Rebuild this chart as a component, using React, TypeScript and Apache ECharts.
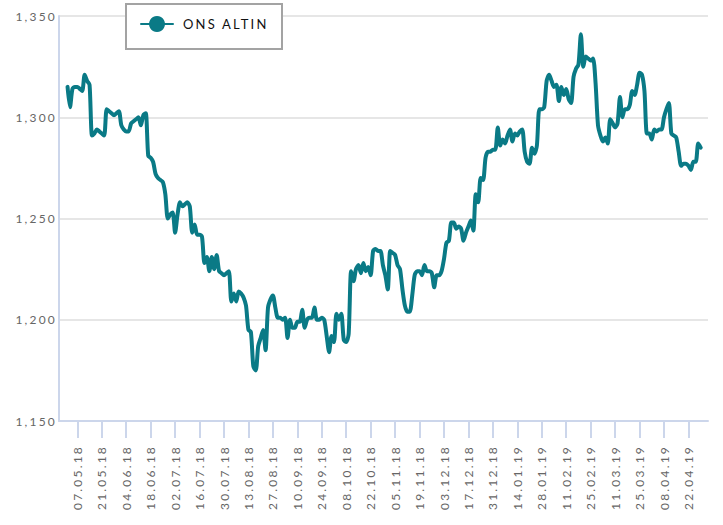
import React, { useEffect, useRef } from 'react';
import * as echarts from 'echarts';

const seriesName = 'ONS ALTIN';
const startDate = '2018-05-01';

// daily (weekday) closing values, starting 01.05.18
const prices = [
  1315, 1305, 1314, 1315, 1315, 1314, 1313, 1321, 1318, 1316,
  1291, 1292, 1294, 1293, 1292, 1291, 1304, 1303, 1302, 1301,
  1302, 1303, 1296, 1294, 1293, 1293, 1297, 1298, 1299, 1300,
  1296, 1301, 1302, 1281, 1280, 1278, 1272, 1270, 1269, 1268,
  1262, 1250, 1252, 1253, 1243, 1252, 1258, 1256, 1257, 1258,
  1256, 1243, 1247, 1242, 1242, 1241, 1228, 1231, 1224, 1231,
  1225, 1232, 1224, 1223, 1222, 1223, 1224, 1209, 1213, 1209,
  1214, 1213, 1211, 1207, 1195, 1194, 1177, 1175, 1187, 1191,
  1195, 1185, 1206, 1210, 1212, 1206, 1201, 1201, 1200, 1201,
  1191, 1200, 1196, 1196, 1199, 1199, 1205, 1196, 1200, 1201,
  1201, 1206, 1200, 1200, 1201, 1200, 1192, 1184, 1192, 1189,
  1203, 1200, 1203, 1190, 1189, 1193, 1224, 1219, 1225, 1227,
  1223, 1228, 1224, 1226, 1222, 1234, 1235, 1234, 1234, 1227,
  1222, 1215, 1234, 1233, 1232, 1227, 1225, 1215, 1207, 1204,
  1204, 1212, 1222, 1224, 1224, 1222, 1227, 1224, 1224, 1223,
  1216, 1222, 1222, 1224, 1230, 1238, 1239, 1248, 1248, 1245,
  1246, 1245, 1239, 1243, 1246, 1249, 1244, 1262, 1258, 1270,
  1269, 1280, 1283, 1283, 1284, 1284, 1295, 1286, 1289, 1287,
  1291, 1294, 1288, 1292, 1291, 1293, 1294, 1283, 1278, 1277,
  1285, 1282, 1286, 1304, 1304, 1305, 1318, 1321, 1318, 1315,
  1316, 1308, 1315, 1311, 1314, 1309, 1307, 1320, 1324, 1326,
  1341, 1325, 1330, 1329, 1328, 1329, 1317, 1296, 1291, 1288,
  1290, 1287, 1299, 1297, 1295, 1297, 1310, 1300, 1304, 1304,
  1306, 1313, 1311, 1316, 1322, 1321, 1313, 1292, 1292, 1289,
  1294, 1293, 1294, 1294, 1300, 1304, 1307, 1292, 1291, 1290,
  1283, 1276, 1277, 1277, 1276, 1274, 1278, 1278, 1287, 1285,
];

const xTickLabels = [
  '07.05.18', '21.05.18', '04.06.18', '18.06.18', '02.07.18', '16.07.18',
  '30.07.18', '13.08.18', '27.08.18', '10.09.18', '24.09.18', '08.10.18',
  '22.10.18', '05.11.18', '19.11.18', '03.12.18', '17.12.18', '31.12.18',
  '14.01.19', '28.01.19', '11.02.19', '25.02.19', '11.03.19', '25.03.19',
  '08.04.19', '22.04.19',
];

const yMin = 1150;
const yMax = 1350;
const yStep = 50;

function weekdays(start: string, count: number): string[] {
  const out: string[] = [];
  const d = new Date(start + 'T00:00:00Z');
  while (out.length < count) {
    const wd = d.getUTCDay();
    if (wd !== 0 && wd !== 6) {
      const dd = String(d.getUTCDate()).padStart(2, '0');
      const mm = String(d.getUTCMonth() + 1).padStart(2, '0');
      const yy = String(d.getUTCFullYear()).slice(2);
      out.push(`${dd}.${mm}.${yy}`);
    }
    d.setUTCDate(d.getUTCDate() + 1);
  }
  return out;
}

const COLOR = '#0a7a86';

export default function App() {
  const ref = useRef<HTMLDivElement>(null);
  useEffect(() => {
    if (!ref.current) return;
    const chart = echarts.init(ref.current, undefined, { renderer: 'svg' });
    const dates = weekdays(startDate, prices.length);
    const tickIdx = xTickLabels.map((l) => dates.indexOf(l));
    chart.setOption({
      animation: false,
      textStyle: { fontFamily: 'Lato' },
      grid: { left: 59, right: 15, top: 16, bottom: 104, containLabel: false },
      graphic: [
        {
          type: 'rect',
          left: 125,
          top: 3,
          z: 1,
          shape: { width: 156, height: 45 },
          style: { fill: '#fff', stroke: '#a3a3a3', lineWidth: 2 },
        },
      ],
      legend: {
        left: 140,
        top: 16,
        padding: 0,
        itemWidth: 32,
        itemHeight: 20,
        data: [seriesName],
        textStyle: { fontSize: 13, color: '#111', padding: [0, 0, 0, 5] },
      },
      xAxis: {
        type: 'value',
        min: -3.5,
        max: 262,
        axisLine: { show: true, onZero: false, lineStyle: { color: '#ccd6eb', width: 2 } },
        axisTick: { show: true, customValues: tickIdx, length: 17, lineStyle: { color: '#ccd6eb', width: 2 } },
        axisLabel: {
          customValues: tickIdx,
          rotate: 90,
          margin: 24,
          color: '#666',
          fontSize: 12,
          formatter: (v: number) => dates[Math.round(v)] ?? '',
        },
        splitLine: { show: false },
      },
      yAxis: {
        type: 'value',
        min: yMin,
        max: yMax,
        interval: yStep,
        axisLine: { show: true, onZero: false, lineStyle: { color: '#ccd6eb', width: 2 } },
        axisTick: { show: false },
        axisLabel: {
          color: '#666',
          fontSize: 12,
          margin: 2,
          formatter: (v: number) => v.toLocaleString('en-US'),
        },
        splitLine: { lineStyle: { color: '#e6e6e6', width: 2 } },
      },
      series: [
        {
          type: 'line',
          name: seriesName,
          data: prices.map((v, i) => [i, v]),
          symbol: 'circle',
          showSymbol: false,
          smooth: 0.25,
          lineStyle: { width: 4, color: COLOR, cap: 'round', join: 'round' },
          itemStyle: { color: COLOR },
        },
      ],
    });
    return () => chart.dispose();
  }, []);
  return (
    <div
      ref={ref}
      style={{ position: 'fixed', left: 0, top: 0, width: 723, height: 525, letterSpacing: '2.2px', background: '#fff' }}
    />
  );
}
